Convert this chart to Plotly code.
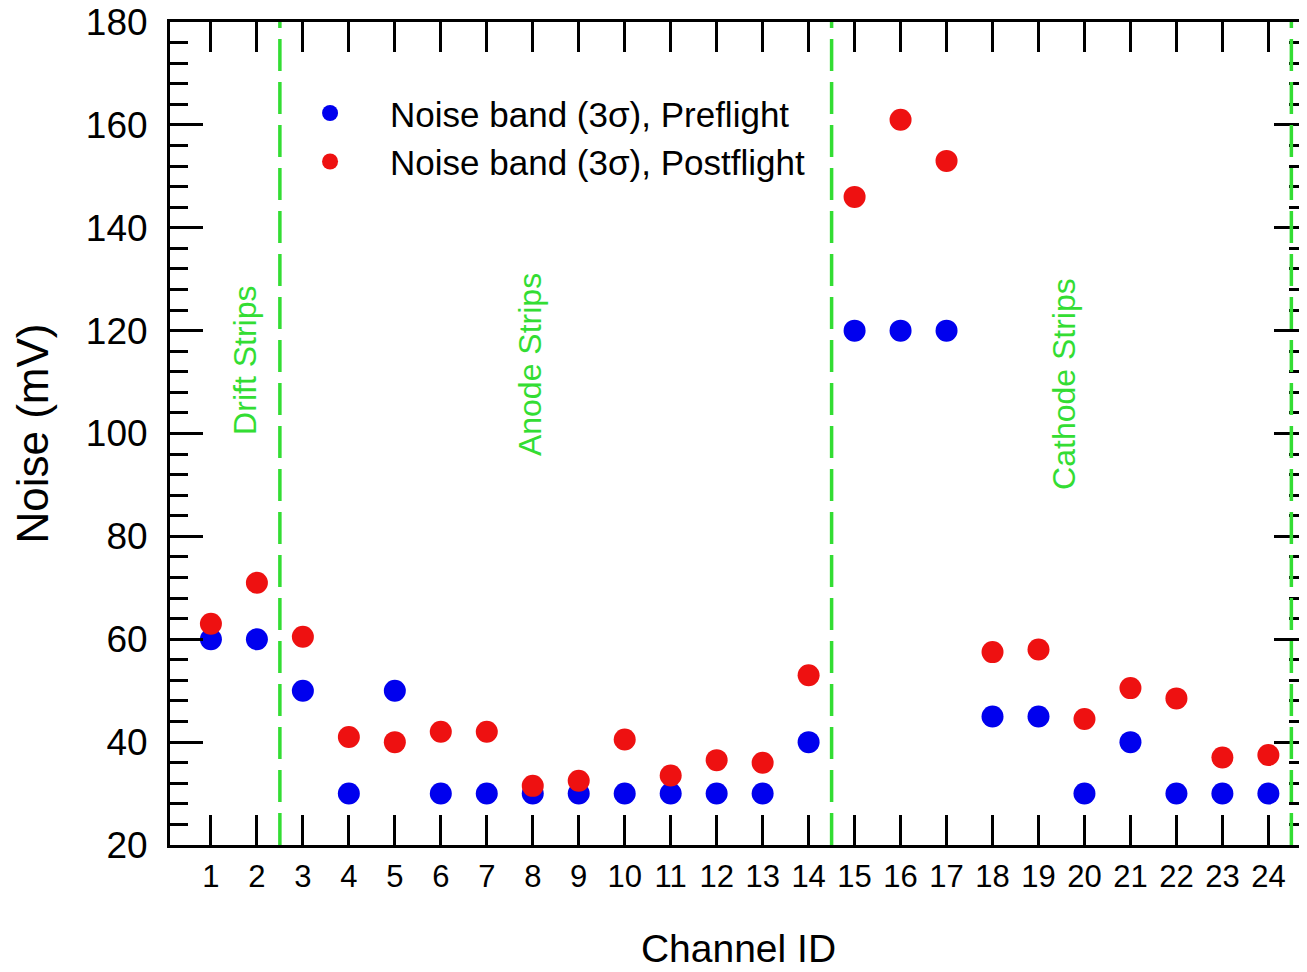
import plotly.graph_objects as go

channels = list(range(1, 25))
preflight = [60, 60, 50, 30, 50, 30, 30, 30, 30, 30, 30, 30, 30, 40,
             120, 120, 120, 45, 45, 30, 40, 30, 30, 30]
postflight = [63, 71, 60.5, 41, 40, 42, 42, 31.5, 32.5, 40.5, 33.5, 36.5, 36, 53,
              146, 161, 153, 57.5, 58, 44.5, 50.5, 48.5, 37, 37.5]
boundaries = [2.5, 14.5, 24.5]
region_labels = ["Drift Strips", "Anode Strips", "Cathode Strips"]
region_x = [1.74, 7.94, 19.55]
region_y = [114.3, 113.3, 109.6]

FONT = "Liberation Sans, Arial, sans-serif"
GREEN = "#33dd33"

fig = go.Figure()
fig.add_trace(go.Scatter(x=channels, y=preflight, mode="markers",
                         name="Noise band (3\u03c3), Preflight",
                         marker=dict(color="#0000ee", size=22, line=dict(width=0))))
fig.add_trace(go.Scatter(x=channels, y=postflight, mode="markers",
                         name="Noise band (3\u03c3), Postflight",
                         marker=dict(color="#ee1111", size=22, line=dict(width=0))))

for b in boundaries:
    fig.add_shape(type="line", x0=b, x1=b, y0=20, y1=180, xref="x", yref="y",
                  line=dict(color=GREEN, width=3.5, dash="32px,11px"))

for t, x, y in zip(region_labels, region_x, region_y):
    fig.add_annotation(x=x, y=y, text=t, textangle=-90, showarrow=False,
                       font=dict(family=FONT, size=32, color=GREEN))

# page body has an 8px default margin; compensate so the plot area sits where the reference has it
fig.update_layout(
    width=1299, height=964,
    margin=dict(l=162, r=0, t=14, b=127),
    plot_bgcolor="white", paper_bgcolor="white",
    font=dict(family=FONT, color="black"),
    showlegend=True,
    legend=dict(x=0.088, y=0.925, xanchor="left", yanchor="top",
                bgcolor="rgba(255,255,255,0)", font=dict(size=35, family=FONT),
                itemwidth=110, tracegroupgap=0),
    xaxis=dict(range=[0.11, 24.84], tickmode="array", tickvals=channels,
               ticktext=[str(c) for c in channels],
               ticks="inside", ticklen=30, tickwidth=2.5, tickcolor="black",
               showline=True, linecolor="black", linewidth=3, mirror="ticks",
               showgrid=False, zeroline=False, automargin=False,
               tickfont=dict(size=31, family=FONT), ticklabelstandoff=2,
               ticklabeloverflow="allow",
               title=dict(text="Channel ID", font=dict(size=39, family=FONT), standoff=42)),
    yaxis=dict(range=[20, 180], tickmode="linear", tick0=20, dtick=20,
               ticks="inside", ticklen=33, tickwidth=3, tickcolor="black",
               minor=dict(dtick=4, ticks="inside", ticklen=18, tickwidth=3, tickcolor="black"),
               showline=True, linecolor="black", linewidth=3, mirror="ticks",
               showgrid=False, zeroline=False, automargin=False,
               tickfont=dict(size=37, family=FONT), ticklabelstandoff=12,
               ticklabeloverflow="allow",
               title=dict(text="Noise (mV)", font=dict(size=44, family=FONT), standoff=27)),
)

fig.write_html("out.html")
